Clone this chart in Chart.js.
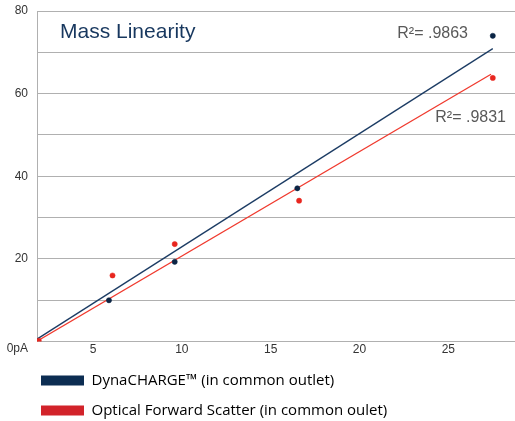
<!DOCTYPE html>
<html>
<head>
<meta charset="utf-8">
<script src="https://cdn.jsdelivr.net/npm/chart.js@4.4.1/dist/chart.umd.min.js"></script>
<style>
  html, body { margin: 0; padding: 0; background: #fff; }
  #chart { display: block; }
</style>
</head>
<body>
<canvas id="chart" width="515" height="421"></canvas>
<script>
// values
const seriesNames = ['DynaCHARGE\u2122 (in common outlet)', 'Optical Forward Scatter (in common oulet)'];
const dynaX = [5.9, 9.6, 16.5, 27.5];
const dynaY = [10.0, 19.3, 37.1, 74.0];
const ofsX = [1.95, 6.1, 9.6, 16.6, 27.5];
const ofsY = [0.2, 16.0, 23.6, 34.1, 63.8];
// fitted trend lines (end points)
const dynaTrendX = [1.85, 27.5];
const dynaTrendY = [0.6, 70.9];
const ofsTrendX = [1.85, 27.4];
const ofsTrendY = [0.1, 64.7];
const rSquared = ['R\u00b2= .9863', 'R\u00b2= .9831'];
const yTickLabels = [0, 20, 40, 60, 80];

const navy = '#0b2545';
const red = '#e8261f';

const toPoints = (xs, ys) => xs.map((x, i) => ({ x, y: ys[i] }));

// title + R² notes drawn inside the plot
const notesPlugin = {
    id: 'notes',
    afterDatasetsDraw(chart) {
        const { ctx, chartArea: a } = chart;
        ctx.save();
        ctx.fillStyle = '#17375e';
        ctx.font = '21px "Liberation Sans"';
        ctx.textAlign = 'left';
        ctx.textBaseline = 'alphabetic';
        ctx.fillText('Mass Linearity', a.left + 23, a.top + 27);

        ctx.fillStyle = '#595959';
        ctx.font = '16px "Liberation Sans"';
        ctx.textAlign = 'right';
        ctx.textBaseline = 'middle';
        ctx.fillText(rSquared[0], a.right - 47, a.top + 23);
        ctx.fillText(rSquared[1], a.right - 9, a.top + 107);
        ctx.restore();
    }
};

// legend indented under the plot
const legendPlace = {
    id: 'legendPlace',
    afterLayout(chart) {
        chart.legend.left = 26;
    }
};

Chart.defaults.font.family = '"Liberation Sans", Arial, sans-serif';

new Chart(document.getElementById('chart'), {
    type: 'scatter',
    data: {
        datasets: [
            {
                label: seriesNames[0],
                data: toPoints(dynaX, dynaY),
                backgroundColor: navy,
                borderColor: navy,
                pointRadius: 2.6,
                pointBorderWidth: 0.5,
                order: 0
            },
            {
                label: seriesNames[1],
                data: toPoints(ofsX, ofsY),
                backgroundColor: red,
                borderColor: red,
                pointRadius: 2.6,
                pointBorderWidth: 0.5,
                order: 0
            },
            {
                type: 'line',
                label: 'dyna trend',
                data: toPoints(dynaTrendX, dynaTrendY),
                borderColor: '#1c3c64',
                borderWidth: 1.3,
                pointRadius: 0,
                fill: false,
                order: 1
            },
            {
                type: 'line',
                label: 'ofs trend',
                data: toPoints(ofsTrendX, ofsTrendY),
                borderColor: '#f03a2e',
                borderWidth: 1.3,
                pointRadius: 0,
                fill: false,
                order: 1
            }
        ]
    },
    options: {
        responsive: false,
        devicePixelRatio: 1,
        animation: false,
        layout: { autoPadding: false, padding: { top: 11, right: 0, bottom: 0, left: 0 } },
        scales: {
            x: {
                type: 'linear',
                min: 1.85,
                max: 28.75,
                grid: { display: false, drawTicks: false },
                border: { display: false },
                afterFit: s => { s.paddingLeft = 0; s.paddingRight = 0; },
                ticks: {
                    stepSize: 5,
                    includeBounds: false,
                    padding: 1,
                    color: '#333',
                    font: { size: 12 }
                }
            },
            y: {
                min: 0,
                max: 80,
                grid: { color: '#b0b0b0', lineWidth: 1, drawTicks: false },
                border: { display: true, color: '#b0b0b0' },
                afterFit: s => { s.width = 37; s.paddingTop = 0; s.paddingBottom = 0; },
                ticks: {
                    stepSize: 10,
                    padding: 9,
                    color: '#333',
                    font: { size: 12 },
                    autoSkip: false,
                    callback: v => {
                        if (!yTickLabels.includes(v)) return '';
                        return v === 0 ? ['', '0pA'] : String(v);
                    }
                }
            }
        },
        plugins: {
            tooltip: { enabled: false },
            legend: {
                position: 'bottom',
                align: 'start',
                maxHeight: 63,
                labels: {
                    boxWidth: 43,
                    boxHeight: 10,
                    padding: 15,
                    color: '#595959',
                    font: { family: '"Open Sans", sans-serif', size: 15 },
                    generateLabels: () => [
                        { text: seriesNames[0], fillStyle: '#0c2d52', strokeStyle: '#0c2d52', lineWidth: 0, datasetIndex: 0 },
                        { text: seriesNames[1], fillStyle: '#d2232a', strokeStyle: '#d2232a', lineWidth: 0, datasetIndex: 1 }
                    ]
                }
            }
        }
    },
    plugins: [notesPlugin, legendPlace]
});
</script>
</body>
</html>
